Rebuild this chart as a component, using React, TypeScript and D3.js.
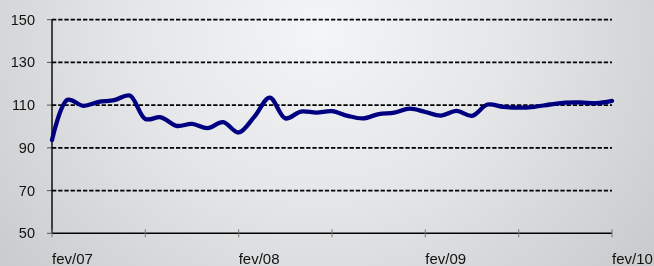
import React from "react";
import * as d3 from "d3";

const monthIndex: number[] = Array.from({ length: 37 }, (_, i) => i);
const values: number[] = [
  93.7, 112.5, 109.7, 111.5, 112.3, 114.5, 103.5, 104.3, 100.3, 101.2,
  99.2, 102.0, 97.2, 104.5, 113.5, 103.8, 107.0, 106.5, 107.2, 105.0,
  103.8, 105.8, 106.5, 108.4, 106.8, 105.1, 107.3, 105.0, 110.3, 109.2,
  108.8, 109.2, 110.3, 111.2, 111.3, 110.9, 112.0,
];
const yTicks: number[] = [50, 70, 90, 110, 130, 150];
const xTickMonths: number[] = [0, 6, 12, 18, 24, 30, 36];
const xLabelMonths: number[] = [0, 12, 24, 36];
const xLabels: string[] = ["fev/07", "fev/08", "fev/09", "fev/10"];

const W = 654;
const H = 266;
const left = 52;
const right = 612;
const top = 19.7;
const bottom = 233.3;

export default function App() {
  const x = d3.scaleLinear().domain([0, 36]).range([left, right]);
  const y = d3.scaleLinear().domain([50, 150]).range([bottom, top]);
  const line = d3
    .line<number>()
    .x((_, i) => x(monthIndex[i]))
    .y((d) => y(d))
    .curve(d3.curveCatmullRom.alpha(0.5));
  const font = "'Liberation Sans', Arial, sans-serif";

  return (
    <div style={{ position: "fixed", left: 0, top: 0, width: W, height: H }}>
      <svg width={W} height={H} style={{ display: "block" }}>
        <defs>
          <radialGradient
            id="bg"
            gradientUnits="userSpaceOnUse"
            cx={320}
            cy={30}
            r={420}
            gradientTransform="translate(320,30) scale(1,0.9) translate(-320,-30)"
          >
            <stop offset="0" stopColor="#f4f5f6" />
            <stop offset="0.45" stopColor="#e5e6e8" />
            <stop offset="1" stopColor="#c9cacc" />
          </radialGradient>
        </defs>
        <rect x={0} y={0} width={W} height={H} fill="url(#bg)" />

        {yTicks
          .filter((t) => t !== 50)
          .map((t) => (
            <line
              key={"g" + t}
              x1={left}
              x2={right}
              y1={y(t)}
              y2={y(t)}
              stroke="#000"
              strokeWidth={1.7}
              strokeDasharray="4.3,1.9"
            />
          ))}
        {yTicks.map((t) => (
          <line
            key={"yt" + t}
            x1={left - 5}
            x2={left}
            y1={y(t)}
            y2={y(t)}
            stroke="#555"
            strokeWidth={1}
          />
        ))}
        {yTicks.map((t) => (
          <text
            key={"yl" + t}
            x={35}
            y={y(t) + 5}
            textAnchor="end"
            fontFamily={font}
            fontSize={14.5}
            fill="#111"
          >
            {t}
          </text>
        ))}

        <line x1={left} x2={left} y1={top} y2={bottom} stroke="#000" strokeWidth={1.4} />
        <line x1={left} x2={right} y1={bottom} y2={bottom} stroke="#000" strokeWidth={1.4} />
        {xTickMonths.map((m) => (
          <line
            key={"xt" + m}
            x1={x(m)}
            x2={x(m)}
            y1={bottom - 4}
            y2={bottom + 4}
            stroke="#777"
            strokeWidth={1}
          />
        ))}
        {xLabelMonths.map((m, i) => (
          <text
            key={"xl" + m}
            x={x(m)}
            y={264}
            textAnchor="start"
            fontFamily={font}
            fontSize={15}
            fill="#111"
          >
            {xLabels[i]}
          </text>
        ))}

        <path
          d={line(values) || ""}
          fill="none"
          stroke="#000080"
          strokeWidth={4.3}
          strokeLinejoin="round"
          strokeLinecap="round"
        />
      </svg>
    </div>
  );
}
